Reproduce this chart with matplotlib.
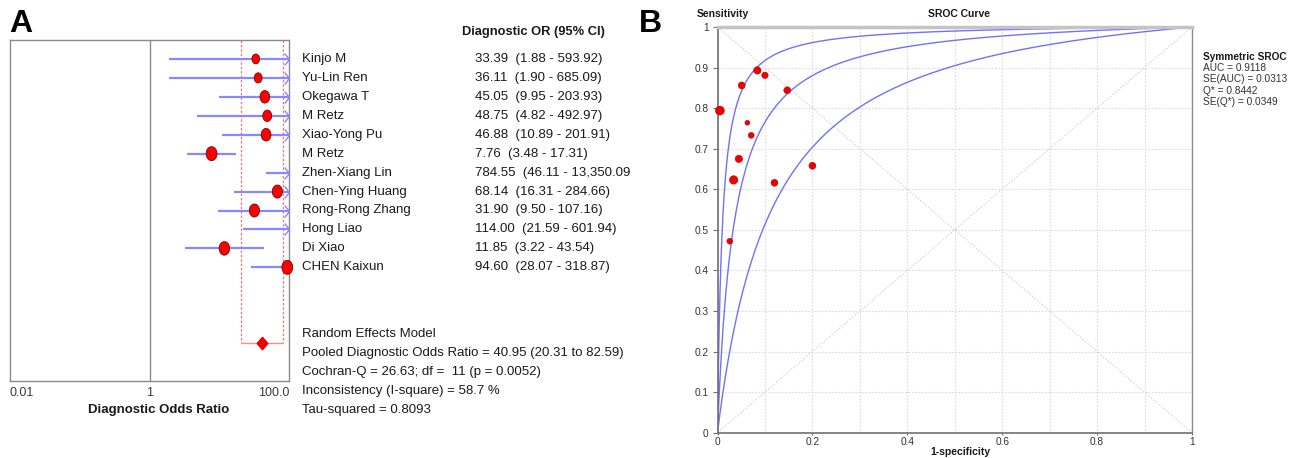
import numpy as np
import matplotlib
matplotlib.use("Agg")
import matplotlib.pyplot as plt
from matplotlib.path import Path
from matplotlib.transforms import blended_transform_factory

plt.rcParams['font.family'] = ['Liberation Sans', 'DejaVu Sans']

# ---------------- data: forest plot ----------------
studies = ["Kinjo M", "Yu-Lin Ren", "Okegawa T", "M Retz", "Xiao-Yong Pu", "M Retz",
           "Zhen-Xiang Lin", "Chen-Ying Huang", "Rong-Rong Zhang", "Hong Liao",
           "Di Xiao", "CHEN Kaixun"]
dor = [33.39, 36.11, 45.05, 48.75, 46.88, 7.76, 784.55, 68.14, 31.90, 114.00, 11.85, 94.60]
ci_low = [1.88, 1.90, 9.95, 4.82, 10.89, 3.48, 46.11, 16.31, 9.50, 21.59, 3.22, 28.07]
ci_high = [593.92, 685.09, 203.93, 492.97, 201.91, 17.31, 13350.09, 284.66, 107.16,
           601.94, 43.54, 318.87]
dor_labels = ["33.39", "36.11", "45.05", "48.75", "46.88", "7.76", "784.55", "68.14",
              "31.90", "114.00", "11.85", "94.60"]
ci_labels = ["(1.88 - 593.92)", "(1.90 - 685.09)", "(9.95 - 203.93)", "(4.82 - 492.97)",
             "(10.89 - 201.91)", "(3.48 - 17.31)", "(46.11 - 13,350.09", "(16.31 - 284.66)",
             "(9.50 - 107.16)", "(21.59 - 601.94)", "(3.22 - 43.54)", "(28.07 - 318.87)"]
study_weight = [5.5, 5.8, 8.8, 7.4, 8.9, 11.0, 4.7, 9.6, 9.6, 8.0, 10.3, 10.9]
pooled_dor = 40.95
pooled_low = 20.31
pooled_high = 82.59
forest_ticks = [0.01, 1, 100]
forest_ticklabels = ["0.01", "1", "100.0"]
stats_lines = ["Random Effects Model",
               "Pooled Diagnostic Odds Ratio = 40.95 (20.31 to 82.59)",
               "Cochran-Q = 26.63; df =  11 (p = 0.0052)",
               "Inconsistency (I-square) = 58.7 %",
               "Tau-squared = 0.8093"]

# ---------------- data: SROC ----------------
fpr = [0.005, 0.051, 0.084, 0.100, 0.147, 0.063, 0.071, 0.045, 0.034, 0.120, 0.200, 0.026]
sens = [0.794, 0.856, 0.893, 0.881, 0.844, 0.764, 0.733, 0.675, 0.623, 0.616, 0.658, 0.472]
sroc_weight = [9.0, 7.0, 7.5, 6.5, 7.0, 5.0, 6.0, 7.5, 8.5, 7.0, 7.0, 6.0]
curve_dor = [100.0, 29.4, 9.5]
sroc_legend = ["AUC = 0.9118", "SE(AUC) = 0.0313", "Q* = 0.8442", "SE(Q*) = 0.0349"]

W, H = 1299, 458
fig = plt.figure(figsize=(W / 100, H / 100), dpi=100)


def fx(px):
    return px / W


def fy(py):
    return 1 - py / H


def axes_rect(l, t, r, b):
    return [l / W, 1 - b / H, (r - l) / W, (b - t) / H]


# ======================= Forest plot =======================
ax = fig.add_axes(axes_rect(10, 40, 289, 381))
ax.set_xscale('log')
ax.set_xlim(0.01, 100)
ax.set_ylim(len(studies) + 5, -1)
for s in ax.spines.values():
    s.set_color('#8a8a8a')
    s.set_linewidth(1.0)
ax.set_yticks([])
ax.set_xticks(forest_ticks)
ax.set_xticklabels(forest_ticklabels)
ax.xaxis.set_minor_locator(matplotlib.ticker.NullLocator())
ax.tick_params(axis='x', length=0, pad=4, labelsize=9, labelcolor='#3a3a3a')
tl = ax.get_xticklabels()
tl[0].set_ha('left')
tl[-1].set_ha('right')
ax.axvline(1, color='#8a8a8a', lw=1.0)

rows = np.arange(len(studies))
xmax = ax.get_xlim()[1]
blue = '#8888ff'
ax.hlines(rows, ci_low, ci_high, color=blue, lw=1.6, zorder=2)

chev = Path([(-0.8, 1.0), (0.0, 0.0), (-0.8, -1.0)], [Path.MOVETO, Path.LINETO, Path.LINETO])
over = [r for r in rows if ci_high[r] > xmax]
ax.plot([xmax] * len(over), over, linestyle='none', marker=chev, markersize=8.6,
        markerfacecolor='none', markeredgecolor=blue, markeredgewidth=1.0,
        clip_on=False, zorder=3)

t = np.linspace(0, 2 * np.pi, 60)
ell = Path(np.column_stack([0.78 * np.cos(t), np.sin(t)]))
vis = [r for r in rows if dor[r] <= xmax]
ax.scatter([dor[r] for r in vis], vis, s=[study_weight[r] * 9.3 for r in vis],
           marker=ell, color='#ff0000', edgecolors='#5a0000', linewidths=0.5,
           zorder=4, clip_on=False)

prow = len(studies) + 3
red = '#ff7070'
ax.vlines([pooled_low, pooled_high], -1, prow, colors=red, linestyles=(0, (2, 1.5)),
          lw=0.9, zorder=1)
ax.hlines(prow, pooled_low, pooled_high, colors='#ff8a8a', lw=1.0, zorder=1)
dia = Path([(0, 1.0), (0.85, 0), (0, -1.0), (-0.85, 0), (0, 1.0)])
ax.plot([pooled_dor], [prow], marker=dia, markersize=9, color='#ee0000',
        linestyle='none', zorder=5)

trans = blended_transform_factory(fig.transFigure, ax.transData)
for r in rows:
    fig.text(fx(302), r, studies[r], transform=trans, ha='left', va='center',
             fontsize=9.5, color='#1a1a1a')
    fig.text(fx(475), r, dor_labels[r] + "  " + ci_labels[r], transform=trans,
             ha='left', va='center', fontsize=9.5, color='#1a1a1a')

fig.text(fx(462), fy(32.5), "Diagnostic OR (95% CI)", ha='left', va='center',
         fontsize=9.3, fontweight='bold', color='#1a1a1a')
for i, line in enumerate(stats_lines):
    fig.text(fx(302), fy(334 + 19 * i), line, ha='left', va='center',
             fontsize=9.5, color='#1a1a1a')
fig.text(fx(159), fy(410), "Diagnostic Odds Ratio", ha='center', va='center',
         fontsize=9.5, fontweight='bold', color='#1a1a1a')
fig.text(fx(9), fy(24), "A", ha='left', va='center', fontsize=23, fontweight='bold')

# ======================= SROC plot =======================
bx = fig.add_axes(axes_rect(717.5, 27, 1192, 432.7))
bx.set_xlim(0, 1)
bx.set_ylim(0, 1)
bx.set_xticks(np.arange(0, 1.01, 0.2))
bx.set_xticks(np.arange(0, 1.01, 0.1), minor=True)
bx.set_yticks(np.arange(0, 1.01, 0.1))
bx.set_xticklabels([f"{v:g}" for v in np.arange(0, 1.01, 0.2).round(1)])
bx.set_yticklabels([f"{v:g}" for v in np.arange(0, 1.01, 0.1).round(1)])
bx.tick_params(axis='y', which='major', length=3.5, width=0.8, color='#707070',
               labelsize=7.3, labelcolor='#333333', pad=3)
bx.tick_params(axis='x', which='major', length=1.5, width=0.8, color='#707070',
               labelsize=7.3, labelcolor='#333333', pad=1.5)
bx.tick_params(axis='x', which='minor', length=0)
bx.grid(True, which='both', color='#dadada', linestyle=(0, (1.5, 1.5)), lw=0.8)
bx.spines['left'].set_color('#707070')
bx.spines['bottom'].set_color('#707070')
bx.spines['left'].set_linewidth(1.2)
bx.spines['bottom'].set_linewidth(1.2)
bx.spines['top'].set_color('#c4c4c4')
bx.spines['top'].set_linewidth(2.5)
bx.spines['right'].set_color('#8a8a8a')
bx.spines['right'].set_linewidth(1.0)

bx.plot([0, 1], [1, 0], color='#d6d6d6', lw=0.8, linestyle=(0, (1.5, 1.5)), zorder=1)
bx.plot([0, 1], [0, 1], color='#d6d6d6', lw=0.8, linestyle=(0, (1.5, 1.5)), zorder=1)

xs = np.linspace(0, 1, 3001)
for d in curve_dor:
    ys = d * xs / (1 - xs + d * xs)
    bx.plot(xs, ys, color='#7070ff', lw=1.0, zorder=2)

bx.scatter(fpr, sens, s=[(w * 0.72) ** 2 for w in sroc_weight], color='#ee0000',
           edgecolors='#aa0000', linewidths=0.3, zorder=4, clip_on=False)

fig.text(fx(697), fy(14), "Sensitivity", ha='left', va='center', fontsize=7.5,
         fontweight='bold', color='#1a1a1a')
fig.text(fx(959), fy(14), "SROC Curve", ha='center', va='center', fontsize=7.5,
         fontweight='bold', color='#1a1a1a')
fig.text(fx(960), fy(452), "1-specificity", ha='center', va='center', fontsize=7.5,
         fontweight='bold', color='#1a1a1a')
fig.text(fx(1203), fy(57), "Symmetric SROC", ha='left', va='center', fontsize=7.3,
         fontweight='bold', color='#1a1a1a')
for i, line in enumerate(sroc_legend):
    fig.text(fx(1203), fy(68 + 11.3 * i), line, ha='left', va='center', fontsize=7.3,
             color='#333333')
fig.text(fx(639), fy(24), "B", ha='left', va='center', fontsize=23, fontweight='bold')

fig.savefig("out.png", dpi=100)
